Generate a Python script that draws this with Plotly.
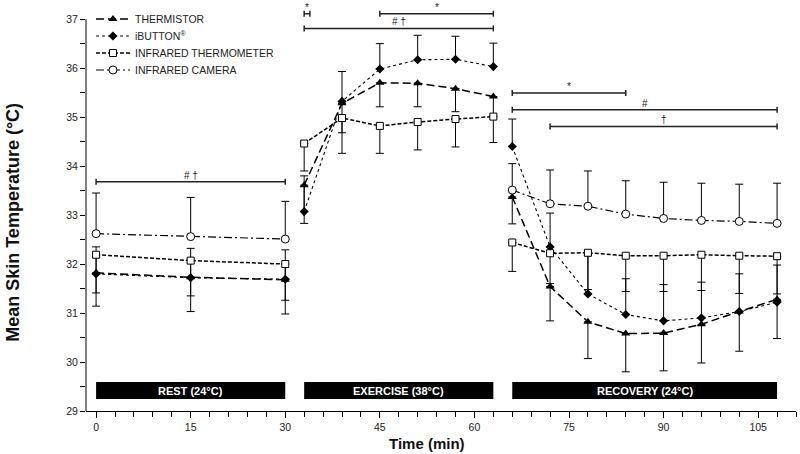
import plotly.graph_objects as go

# ---------------- data ----------------
t_rest = [0, 15, 30]
t_ex = [33, 39, 45, 51, 57, 63]
t_rec = [66, 72, 78, 84, 90, 96, 102, 108]

therm_rest = [31.82, 31.73, 31.68]
therm_ex = [33.61, 35.28, 35.70, 35.69, 35.58, 35.42]
therm_rec = [33.37, 31.54, 30.82, 30.58, 30.59, 30.77, 31.03, 31.28]
therm_sd_rest = [0.68, 0.70, 0.70]
therm_sd_ex = [0.78, 1.02, 0.49, 0.48, 0.47, 0.40]
therm_sd_rec = [0.55, 0.70, 0.75, 0.78, 0.77, 0.79, 0.81, 0.80]

ibut_rest = [31.80, 31.72, 31.69]
ibut_ex = [33.07, 35.32, 35.98, 36.17, 36.18, 36.03]
ibut_rec = [34.40, 32.35, 31.39, 30.97, 30.84, 30.90, 31.03, 31.22]
ibut_sd_rest = [0.55, 0.60, 0.60]
ibut_sd_ex = [0.73, 0.61, 0.52, 0.50, 0.47, 0.48]
ibut_sd_rec = [0.56, 0.69, 0.78, 0.73, 0.74, 0.73, 0.77, 0.76]

irt_rest = [32.19, 32.07, 32.00]
irt_ex = [34.46, 34.98, 34.82, 34.90, 34.96, 35.01]
irt_rec = [32.44, 32.22, 32.23, 32.17, 32.17, 32.19, 32.17, 32.16]
irt_sd_rest = [0.78, 0.72, 0.74]
irt_sd_ex = [0.56, 0.30, 0.56, 0.57, 0.57, 0.53]
irt_sd_rec = [0.59, 0.62, 0.75, 0.73, 0.73, 0.73, 0.77, 0.77]

cam_rest = [32.62, 32.56, 32.51]
cam_rec = [33.51, 33.23, 33.18, 33.02, 32.93, 32.89, 32.87, 32.83]
cam_sd_rest = [0.83, 0.80, 0.77]
cam_sd_rec = [0.54, 0.69, 0.72, 0.68, 0.74, 0.76, 0.76, 0.82]

phase_labels = ["REST (24\u00b0C)", "EXERCISE (38\u00b0C)", "RECOVERY (24\u00b0C)"]
phase_start = [0, 33, 66]
phase_end = [30, 63, 108]
phase_band = [29.245, 29.59]

sig_x0 = [0, 33, 45, 33, 66, 66, 72]
sig_x1 = [30, 33.9, 63, 63, 84, 108, 108]
sig_y = [33.68, 37.11, 37.11, 36.81, 35.49, 35.15, 34.81]
sig_text = ["# \u2020", "*", "*", "# \u2020", "*", "#", "\u2020"]

names = ["THERMISTOR", "iBUTTON<sup>\u00ae</sup>", "INFRARED THERMOMETER", "INFRARED CAMERA"]


def seg(*parts):
    out = []
    for i, p in enumerate(parts):
        if i:
            out.append(None)
        out.extend(p)
    return out


FONT = "Liberation Sans, Arial, sans-serif"
BLACK = "#000000"

fig = go.Figure()

x_th = seg(t_rest, t_ex, t_rec)
x_cam = seg(t_rest, t_rec)
zero_th = [0 for _ in x_th]
zero_cam = [0 for _ in x_cam]

# Thermistor
fig.add_trace(go.Scatter(
    x=x_th, y=seg(therm_rest, therm_ex, therm_rec), name=names[0], legend="legend",
    mode="lines+markers", connectgaps=False,
    line=dict(color=BLACK, width=1.5, dash="8px,4px"),
    marker=dict(symbol="triangle-up", size=8, color=BLACK),
    error_y=dict(type="data", symmetric=False, array=zero_th,
                 arrayminus=seg(therm_sd_rest, therm_sd_ex, therm_sd_rec),
                 color=BLACK, thickness=1, width=4),
))

# iButton
fig.add_trace(go.Scatter(
    x=x_th, y=seg(ibut_rest, ibut_ex, ibut_rec), name=names[1], legend="legend2",
    mode="lines+markers", connectgaps=False,
    line=dict(color=BLACK, width=1.1, dash="dot"),
    marker=dict(symbol="diamond", size=7, color=BLACK),
    error_y=dict(type="data", symmetric=False,
                 array=seg(ibut_sd_rest, ibut_sd_ex, ibut_sd_rec),
                 arrayminus=zero_th, color=BLACK, thickness=1, width=4),
))

# Infrared thermometer
fig.add_trace(go.Scatter(
    x=x_th, y=seg(irt_rest, irt_ex, irt_rec), name=names[2], legend="legend3",
    mode="lines+markers", connectgaps=False,
    line=dict(color=BLACK, width=1.5, dash="4px,2px"),
    marker=dict(symbol="square", size=7, color="white", line=dict(color=BLACK, width=1)),
    error_y=dict(type="data", symmetric=False, array=zero_th,
                 arrayminus=seg(irt_sd_rest, irt_sd_ex, irt_sd_rec),
                 color=BLACK, thickness=1, width=4),
))

# Infrared camera
fig.add_trace(go.Scatter(
    x=x_cam, y=seg(cam_rest, cam_rec), name=names[3], legend="legend4",
    mode="lines+markers", connectgaps=False,
    line=dict(color=BLACK, width=1.2, dash="8px,3px,2px,3px"),
    marker=dict(symbol="circle", size=8, color="white", line=dict(color=BLACK, width=1)),
    error_y=dict(type="data", symmetric=False,
                 array=seg(cam_sd_rest, cam_sd_rec), arrayminus=zero_cam,
                 color=BLACK, thickness=1, width=4),
))

shapes = []
annotations = []

# y-axis line (only up to 37)
shapes.append(dict(type="line", xref="paper", x0=0, x1=0, yref="y", y0=29, y1=37,
                   line=dict(color=BLACK, width=1)))

# significance brackets
for a, b, yv, txt in zip(sig_x0, sig_x1, sig_y, sig_text):
    shapes.append(dict(type="line", xref="x", yref="y", x0=a, x1=b, y0=yv, y1=yv,
                       line=dict(color="#222", width=1.5)))
    for e in (a, b):
        shapes.append(dict(type="line", xref="x", yref="y", x0=e, x1=e,
                           ysizemode="pixel", yanchor=yv, y0=-3, y1=3,
                           line=dict(color="#222", width=1.5)))
    annotations.append(dict(x=(a + b) / 2, y=yv, xref="x", yref="y", text=txt,
                            showarrow=False, yanchor="bottom", yshift=-1,
                            font=dict(family=FONT, size=10, color="#222")))

# phase bars
for lab, a, b in zip(phase_labels, phase_start, phase_end):
    shapes.append(dict(type="rect", xref="x", yref="y", x0=a, x1=b,
                       y0=phase_band[0], y1=phase_band[1],
                       fillcolor=BLACK, line=dict(width=0), layer="above"))
    annotations.append(dict(x=(a + b) / 2, y=(phase_band[0] + phase_band[1]) / 2,
                            xref="x", yref="y", text="<b>" + lab + "</b>",
                            showarrow=False,
                            font=dict(family=FONT, size=11, color="white")))

# axis titles
annotations.append(dict(x=0.48, y=-0.078, xref="paper", yref="paper",
                        text="<b>Time (min)</b>", showarrow=False,
                        xanchor="center", yanchor="middle",
                        font=dict(family=FONT, size=15, color="#111")))
annotations.append(dict(x=-0.103, y=0.46, xref="paper", yref="paper",
                        text="<b>Mean Skin Temperature (\u00b0C)</b>", showarrow=False,
                        textangle=-90, xanchor="center", yanchor="middle",
                        font=dict(family=FONT, size=18, color="#111")))

leg_common = dict(x=0.007, xanchor="left", yanchor="middle", bgcolor="rgba(0,0,0,0)",
                  borderwidth=0, itemwidth=34,
                  font=dict(family=FONT, size=10.5, color="#222"))
row_px = [19, 36, 53, 70]
plot_h = 411

fig.update_layout(
    width=800, height=454,
    margin=dict(l=86, r=4, t=0, b=43),
    paper_bgcolor="white", plot_bgcolor="white",
    showlegend=True,
    legend=dict(y=1 - row_px[0] / plot_h, **leg_common),
    legend2=dict(y=1 - row_px[1] / plot_h, **leg_common),
    legend3=dict(y=1 - row_px[2] / plot_h, **leg_common),
    legend4=dict(y=1 - row_px[3] / plot_h, **leg_common),
    shapes=shapes,
    annotations=annotations,
    font=dict(family=FONT, color="#222"),
    xaxis=dict(range=[-1.6, 111], tick0=0, dtick=15, ticks="outside", ticklen=6,
               tickcolor=BLACK, showline=True, linecolor=BLACK, linewidth=1,
               showgrid=False, zeroline=False,
               tickfont=dict(family=FONT, size=10.5, color="#222"),
               minor=dict(tick0=0, dtick=3, ticks="outside", ticklen=5,
                          tickcolor=BLACK, showgrid=False)),
    yaxis=dict(range=[29, 37.39], tick0=29, dtick=1, ticks="outside", ticklen=5,
               tickcolor=BLACK, showline=False, showgrid=False, zeroline=False,
               tickfont=dict(family=FONT, size=10.5, color="#222"),
               minor=dict(dtick=0.5, ticks="outside", ticklen=5,
                          tickcolor=BLACK, showgrid=False)),
)

fig.write_html("out.html", config={"displayModeBar": False},
               post_script="document.body.style.margin='0px';document.body.style.overflow='hidden';")
